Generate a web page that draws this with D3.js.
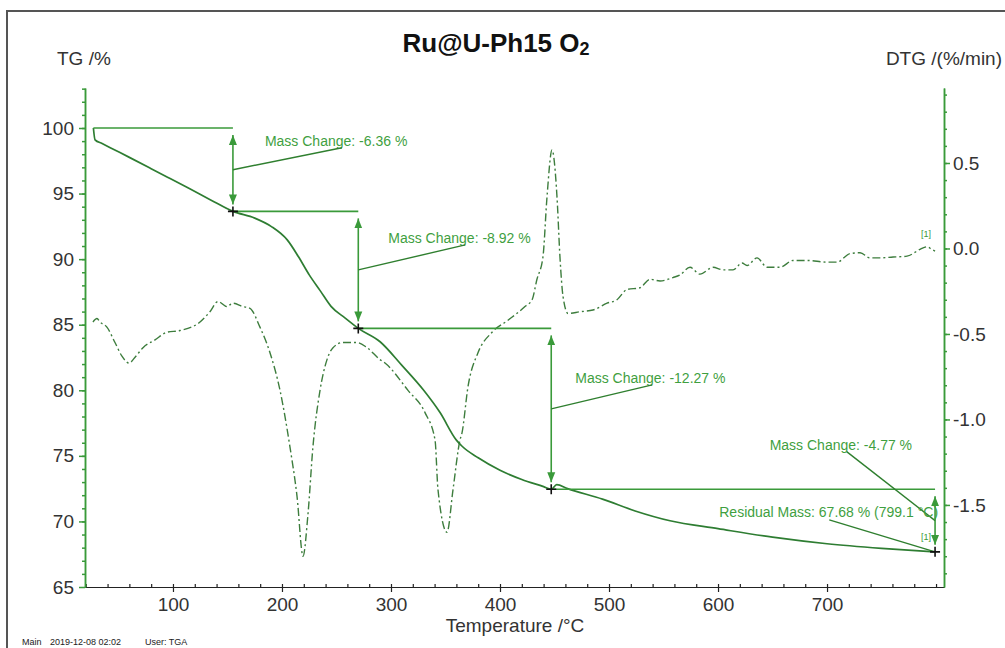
<!DOCTYPE html>
<html>
<head>
<meta charset="UTF-8">
<title>Ru@U-Ph15 O2</title>
<style>
	body { margin: 0; background: #fff; }
	svg { display: block; font-family: "Liberation Sans", Arial, sans-serif; }
	.tick text { fill: #333; }
	.note { fill: #3f9f3f; font-size: 14px; }
</style>
</head>
<body>
<script src="https://d3js.org/d3.v7.min.js"></script>
<script>
'use strict';

// TG curve, mass in %
var tgTemp = [27, 28.5, 35, 42, 60, 80, 95, 115, 135, 155, 175, 190, 205, 215, 225, 235, 245, 258, 270,
	290, 310, 330, 345, 360, 365, 380, 400, 420, 440, 447, 452, 462, 494, 524, 556, 600, 650, 700, 750, 799.1];
var tgMass = [100, 99.1, 98.82, 98.52, 97.76, 96.9, 96.25, 95.38, 94.5, 93.64, 93.13, 92.5, 91.45, 90.2, 88.8, 87.6, 86.4, 85.5, 84.72,
	83.7, 81.9, 80.0, 78.3, 76.2, 75.75, 74.85, 73.9, 73.2, 72.65, 72.45, 72.8, 72.5, 71.7, 70.8, 70.05, 69.45, 68.8, 68.3, 67.95, 67.68];

// DTG curve, %/min
var dtgTemp = [26.6, 30.3, 33, 39.4, 46.8, 53.2, 59.6, 66, 72.5, 83.5, 94.5, 106.4, 124.8, 133.9, 141.3, 149.5, 155, 164.2, 170.6,
	179.8, 189, 198.2, 207.3, 213.8, 219.3, 223.9, 228.4, 234.9, 241.3, 246.8, 256, 268.8, 278, 289.9, 294.5, 315.6, 331.2, 340.4,
	343.1, 351.4, 356.9, 363.3, 365.1, 370.6, 379.8, 392.7, 407.3, 422.9, 429.4, 433.9, 439.4, 443.1, 447.7, 452.3, 455, 457.8,
	462.4, 473.4, 485.3, 498.2, 507.3, 516.5, 528.4, 537.6, 546.8, 558.7, 565.1, 574.3, 583.5, 595.4, 604.6, 613.8, 622, 626.6,
	635.8, 645, 656.9, 668.8, 681.7, 700, 709.2, 721.1, 730.3, 739.4, 748.6, 760.6, 773.4, 785.3, 791.7, 796, 799.1];
var dtgRate = [-0.43, -0.41, -0.43, -0.46, -0.55, -0.63, -0.67, -0.63, -0.58, -0.535, -0.49, -0.48, -0.43, -0.37, -0.31, -0.34, -0.32, -0.34, -0.35,
	-0.46, -0.61, -0.83, -1.16, -1.45, -1.80, -1.55, -1.16, -0.83, -0.65, -0.58, -0.55, -0.55, -0.58, -0.65, -0.67, -0.83, -0.96, -1.12,
	-1.41, -1.66, -1.41, -1.12, -1.08, -0.81, -0.61, -0.49, -0.42, -0.34, -0.30, -0.18, -0.05, 0.30, 0.576, 0.30, -0.05, -0.28,
	-0.38, -0.37, -0.36, -0.32, -0.30, -0.24, -0.23, -0.18, -0.19, -0.17, -0.155, -0.11, -0.15, -0.11, -0.125, -0.125, -0.085, -0.10,
	-0.055, -0.11, -0.11, -0.07, -0.07, -0.08, -0.08, -0.03, -0.025, -0.055, -0.055, -0.05, -0.045, -0.005, 0.01, -0.005, -0.015];

var xTicks = [100, 200, 300, 400, 500, 600, 700];
var tgTicks = [65, 70, 75, 80, 85, 90, 95, 100];
var dtgTicks = [-1.5, -1.0, -0.5, 0.0, 0.5];

// mass change steps
var stepTemp = [27, 155, 270, 447, 799.1];
var stepLevel = [100, 93.64, 84.72, 72.45, 67.68];
var stepChange = [-6.36, -8.92, -12.27, -4.77];
var residualMass = 67.68, residualTemp = 799.1;

var W = 1005, H = 648;
var svg = d3.select("body").append("svg")
	.attr("width", W)
	.attr("height", H);

var green = "#3a9a3a";

svg.append("rect")
	.attr("x", 7).attr("y", 11)
	.attr("width", W + 20).attr("height", H + 20)
	.attr("fill", "none")
	.attr("stroke", "#555")
	.attr("stroke-width", 2);

var x = d3.scaleLinear().domain([19.3, 807.3]).range([85, 944]);
var yL = d3.scaleLinear().domain([65, 103.05]).range([587, 88]);
var yR = d3.scaleLinear().domain([-1.98, 0.9386]).range([587, 88]);

// plain hyphen minus, like the instrument software
var locale = d3.formatLocale({decimal: ".", thousands: ",", grouping: [3], currency: ["", ""], minus: "-"});
var fmt1 = locale.format(".1f");
var fmt2 = locale.format(".2f");

// axes: minor ticks in one group, labelled ticks in another
function styleAxis(g, col){
	g.selectAll("path, line").attr("stroke", col).attr("stroke-width", 1.5);
	g.selectAll("text").attr("font-size", 19);
}

var gxm = svg.append("g").attr("transform", "translate(0,587)")
	.call(d3.axisBottom(x).tickValues(d3.range(20, 801, 20)).tickSize(-3).tickSizeOuter(0).tickFormat(""));
var gx = svg.append("g").attr("transform", "translate(0,587)")
	.call(d3.axisBottom(x).tickValues(xTicks).tickSize(5).tickSizeOuter(0).tickPadding(6));
styleAxis(gxm, "#222");
styleAxis(gx, "#222");
gx.selectAll("path, line").attr("stroke-width", 1.2);
gxm.selectAll("path, line").attr("stroke-width", 1.2);

var glm = svg.append("g").attr("transform", "translate(85,0)")
	.call(d3.axisLeft(yL).tickValues(d3.range(66, 104, 1)).tickSize(3).tickSizeOuter(0).tickFormat(""));
var gl = svg.append("g").attr("transform", "translate(85,0)")
	.call(d3.axisLeft(yL).tickValues(tgTicks).tickSize(6).tickSizeOuter(0).tickPadding(5));
styleAxis(glm, green);
styleAxis(gl, green);

var grm = svg.append("g").attr("transform", "translate(944,0)")
	.call(d3.axisRight(yR).tickValues(d3.range(-19, 10, 1).map(function(d){ return d / 10; })).tickSize(3).tickSizeOuter(0).tickFormat(""));
var gr = svg.append("g").attr("transform", "translate(944,0)")
	.call(d3.axisRight(yR).tickValues(dtgTicks).tickSize(6).tickSizeOuter(0).tickPadding(3).tickFormat(fmt1));
styleAxis(grm, green);
styleAxis(gr, green);

// titles
var title = svg.append("text")
	.attr("x", 496).attr("y", 52)
	.attr("text-anchor", "middle")
	.attr("font-size", 26)
	.attr("font-weight", "bold")
	.attr("fill", "#111");
title.append("tspan").text("Ru@U-Ph15 O");
title.append("tspan").attr("font-size", 18).attr("dy", 3).text("2");

svg.append("text").attr("x", 57).attr("y", 65).attr("font-size", 19).attr("fill", "#333").text("TG /%");
svg.append("text").attr("x", 1002).attr("y", 65).attr("text-anchor", "end").attr("font-size", 19).attr("fill", "#333").text("DTG /(%/min)");
svg.append("text").attr("x", 515).attr("y", 632).attr("text-anchor", "middle").attr("font-size", 19).attr("fill", "#333").text("Temperature /°C");

var foot = svg.append("g").attr("font-size", 9).attr("fill", "#222");
foot.append("text").attr("x", 22).attr("y", 645).text("Main");
foot.append("text").attr("x", 50).attr("y", 645).text("2019-12-08 02:02");
foot.append("text").attr("x", 145).attr("y", 645).text("User: TGA");

// curves
var dtgLine = d3.line()
	.x(function(d){ return x(d[0]); })
	.y(function(d){ return yR(d[1]); })
	.curve(d3.curveMonotoneX);
svg.append("path")
	.datum(dtgTemp.map(function(t, i){ return [t, dtgRate[i]]; }))
	.attr("d", dtgLine)
	.attr("fill", "none")
	.attr("stroke", "#3d7d3d")
	.attr("stroke-width", 1.4)
	.attr("stroke-dasharray", "8,3,2,3");

var tgLine = d3.line()
	.x(function(d){ return x(d[0]); })
	.y(function(d){ return yL(d[1]); })
	.curve(d3.curveMonotoneX);
svg.append("path")
	.datum(tgTemp.map(function(t, i){ return [t, tgMass[i]]; }))
	.attr("d", tgLine)
	.attr("fill", "none")
	.attr("stroke", "#2e7d32")
	.attr("stroke-width", 1.7);

// annotations
svg.append("defs").append("marker")
	.attr("id", "arr")
	.attr("viewBox", "0 0 10 10")
	.attr("refX", 10).attr("refY", 5)
	.attr("markerWidth", 10).attr("markerHeight", 10)
	.attr("markerUnits", "userSpaceOnUse")
	.attr("orient", "auto-start-reverse")
	.append("path")
	.attr("d", "M0,1 L10,5 L0,9 Z")
	.attr("fill", green);

var notes = svg.append("g");

// level lines
stepChange.forEach(function(c, i){
	notes.append("line")
		.attr("x1", x(stepTemp[i])).attr("x2", x(stepTemp[i + 1]))
		.attr("y1", yL(stepLevel[i])).attr("y2", yL(stepLevel[i]))
		.attr("stroke", green).attr("stroke-width", 1.6);
});

// label layout relative to each arrow: text offset and anchor
var labelPos = [
	{dx: 32, dy: -24, anchor: "start"},
	{dx: 30, dy: -27, anchor: "start"},
	{dx: 24, dy: -26, anchor: "start"},
	{dx: -23, dy: -71, anchor: "end"}
];

stepChange.forEach(function(c, i){
	var ax = x(stepTemp[i + 1]);
	var ya = yL(stepLevel[i]), yb = yL(stepLevel[i + 1]);
	notes.append("line")
		.attr("x1", ax).attr("x2", ax)
		.attr("y1", ya + 7).attr("y2", yb - 7)
		.attr("stroke", green).attr("stroke-width", 1.6)
		.attr("marker-start", "url(#arr)")
		.attr("marker-end", "url(#arr)");
	var mid = (ya + yb) / 2;
	var p = labelPos[i];
	var t = notes.append("text")
		.attr("class", "note")
		.attr("x", ax + p.dx).attr("y", mid + p.dy)
		.attr("text-anchor", p.anchor)
		.text("Mass Change: " + fmt2(c) + " %");
	var start = ax + p.dx - (p.anchor === "end" ? t.node().getComputedTextLength() : 0);
	notes.append("line")
		.attr("x1", ax).attr("y1", mid)
		.attr("x2", start + 77).attr("y2", mid + p.dy + 2)
		.attr("stroke", "#2f7f2f").attr("stroke-width", 1.4);
});

// residual mass
var rx = x(residualTemp), ry = yL(residualMass);
var rt = notes.append("text")
	.attr("class", "note")
	.attr("x", rx + 3).attr("y", ry - 35)
	.attr("text-anchor", "end")
	.text("Residual Mass: " + fmt2(residualMass) + " % (" + residualTemp + " °C)");
var rstart = rx + 3 - rt.node().getComputedTextLength();
notes.append("line")
	.attr("x1", rx).attr("y1", ry)
	.attr("x2", rstart + 110).attr("y2", ry - 32)
	.attr("stroke", "#2f7f2f").attr("stroke-width", 1.4);

// cross markers at step points
stepTemp.slice(1).forEach(function(t, i){
	var cx = x(t), cy = yL(stepLevel[i + 1]);
	notes.append("path")
		.attr("d", "M" + (cx - 5) + "," + cy + "H" + (cx + 5) + "M" + cx + "," + (cy - 5) + "V" + (cy + 5))
		.attr("stroke", "#111").attr("stroke-width", 1.6);
});

// curve end tags
notes.append("text").attr("x", x(residualTemp) - 14).attr("y", yR(dtgRate[dtgRate.length - 1]) - 14)
	.attr("font-size", 9).attr("fill", green).text("[1]");
notes.append("text").attr("x", x(residualTemp) - 14).attr("y", ry - 12)
	.attr("font-size", 9).attr("fill", green).text("[1]");
</script>
</body>
</html>
